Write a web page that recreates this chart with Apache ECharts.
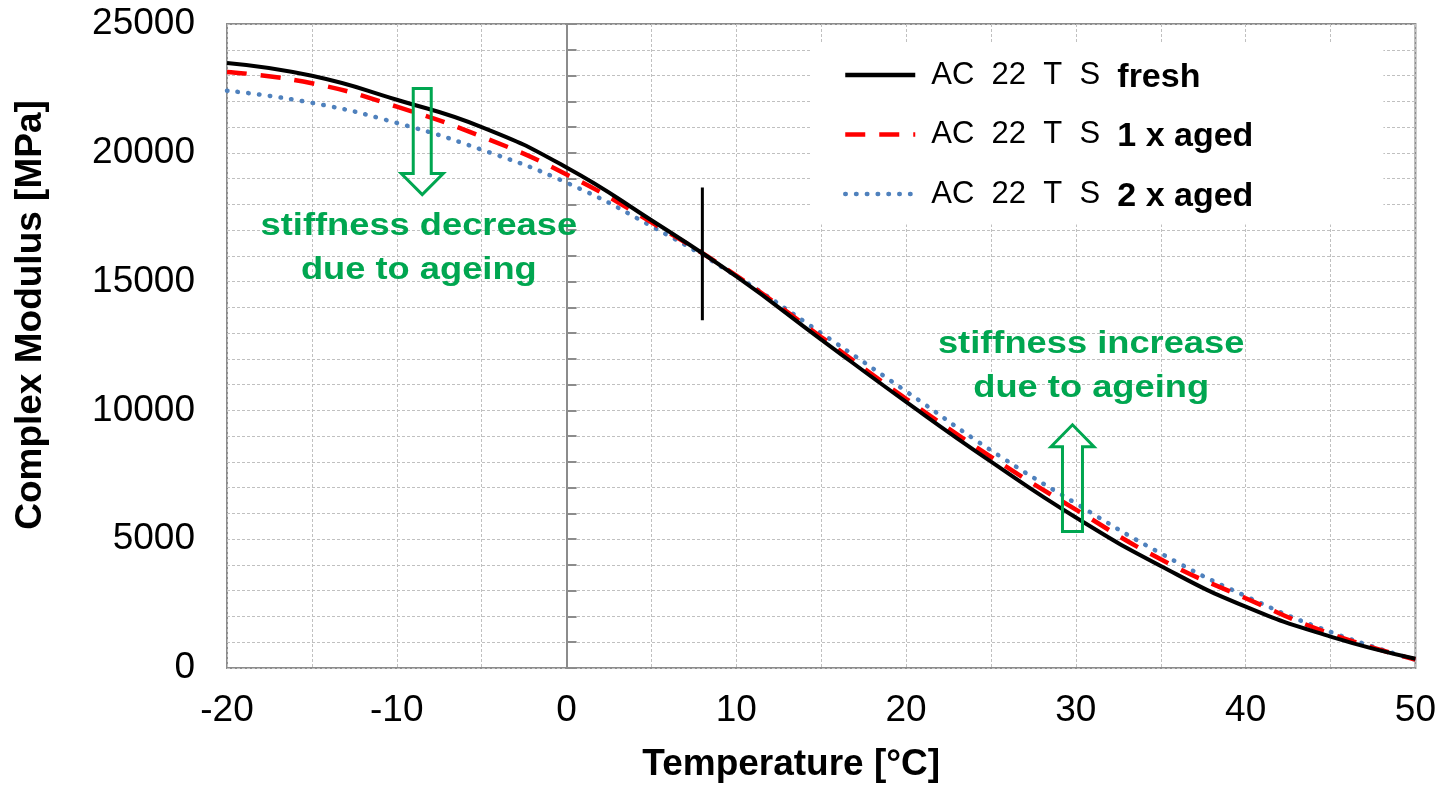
<!DOCTYPE html>
<html><head><meta charset="utf-8">
<script src="https://cdn.jsdelivr.net/npm/echarts@6/dist/echarts.min.js"></script>
<style>html,body{margin:0;padding:0;background:#fff}#c{width:1439px;height:788px}</style>
</head><body><div id="c"></div>
<script>
// ---- data ----
const temperatures = [-20, -15, -10, -5, 0, 5, 10, 15, 20, 25, 30, 35, 40, 45, 50];
const freshValues  = [23490, 22990, 22060, 21000, 19430, 17380, 15200, 12750, 10330, 8010, 5840, 3960, 2380, 1220, 360];
const aged1Values  = [23140, 22700, 21790, 20630, 19160, 17300, 15230, 12850, 10450, 8200, 6150, 4220, 2710, 1330, 330];
const aged2Values  = [22410, 21940, 21160, 20120, 18840, 17150, 15210, 13000, 10740, 8450, 6390, 4450, 2790, 1400, 320];
const seriesNames  = ['AC 22 T S fresh', 'AC 22 T S 1 x aged', 'AC 22 T S 2 x aged'];
const legendSuffix = ['fresh', '1 x aged', '2 x aged'];
const markerX = [8, 8];
const markerY = [18650, 13500];
const xMin = -20, xMax = 50, xStep = 10;
const yMin = 0, yMax = 25000, yStep = 5000;

const FONT = '"Liberation Sans", Arial, sans-serif';
const GREEN = '#00A650';
const GRID_COLOR = '#c0c0c0';
const AXIS_COLOR = '#8c8c8c';

const pairs = vals => temperatures.map((t, i) => [t, vals[i]]);

const chart = echarts.init(document.getElementById('c'), null, {renderer: 'canvas'});

const option = {
  animation: false,
  backgroundColor: '#fff',
  textStyle: {fontFamily: FONT},
  grid: {left: 227, right: 23, top: 24, bottom: 118, show: true,
         borderColor: AXIS_COLOR, borderWidth: 2, backgroundColor: 'transparent'},
  xAxis: {
    type: 'value', min: xMin, max: xMax, interval: xStep,
    name: 'Temperature [°C]', nameLocation: 'middle', nameGap: 78,
    nameTextStyle: {fontSize: 37, fontWeight: 'bold', color: '#000', fontFamily: FONT, padding: [0, 60, 0, 0]},
    axisLine: {show: false}, axisTick: {show: false},
    axisLabel: {fontSize: 37, color: '#000', margin: 24, fontFamily: FONT, formatter: v => String(v)},
    splitLine: {show: true, lineStyle: {color: GRID_COLOR, width: 1, type: [3, 2]}},
    minorTick: {show: false, splitNumber: 2},
    minorSplitLine: {show: true, lineStyle: {color: GRID_COLOR, width: 1, type: [3, 2]}}
  },
  yAxis: [{
    type: 'value', min: yMin, max: yMax, interval: yStep,
    name: 'Complex Modulus [MPa]', nameLocation: 'middle', nameGap: 178,
    nameTextStyle: {fontSize: 37, fontWeight: 'bold', color: '#000', fontFamily: FONT, padding: [0, 0, 0, 62]},
    axisLine: {show: false, onZero: false}, axisTick: {show: false},
    axisLabel: {fontSize: 37, color: '#000', margin: 32, fontFamily: FONT, formatter: v => String(v)},
    splitLine: {show: true, lineStyle: {color: GRID_COLOR, width: 1, type: [3, 2]}},
    minorTick: {show: false, splitNumber: 5},
    minorSplitLine: {show: true, lineStyle: {color: GRID_COLOR, width: 1, type: [3, 2]}}
  }, {
    type: 'value', min: yMin, max: yMax, interval: yStep, position: 'left',
    axisLine: {show: true, onZero: true, onZeroAxisIndex: 0, lineStyle: {color: AXIS_COLOR, width: 2}},
    axisTick: {show: true, inside: true, length: 10, lineStyle: {color: AXIS_COLOR, width: 2}},
    minorTick: {show: true, splitNumber: 5, length: 10, lineStyle: {color: AXIS_COLOR, width: 2}},
    axisLabel: {show: false}, splitLine: {show: false}
  }],
  legend: {
    data: seriesNames, orient: 'vertical', left: 810, top: 43,
    backgroundColor: '#fff', padding: [14, 130, 11, 33],
    itemWidth: 70, itemHeight: 14, itemGap: 22,
    selectedMode: false,
    itemStyle: {opacity: 0, borderWidth: 0},
    lineStyle: {width: 4.5},
    formatter: name => '{a|AC  22  T  S}  {b|' + legendSuffix[seriesNames.indexOf(name)] + '}',
    textStyle: {fontSize: 31, color: '#000', fontFamily: FONT, lineHeight: 36,
      rich: {
        a: {fontSize: 31, color: '#000', fontFamily: FONT, padding: [0, 0, 0, 11]},
        b: {fontSize: 34, fontWeight: 'bold', color: '#000', fontFamily: FONT, padding: [5, 0, 0, 0]}
      }}
  },
  series: [
    {name: seriesNames[0], type: 'line', smooth: true, symbol: 'none', z: 4,
     data: pairs(freshValues),
     lineStyle: {color: '#000', width: 4}, itemStyle: {color: '#000'}},
    {name: seriesNames[1], type: 'line', smooth: true, symbol: 'none', z: 3,
     data: pairs(aged1Values),
     lineStyle: {color: '#ff0000', width: 4.5, type: [20, 14], cap: 'butt'}, itemStyle: {color: '#ff0000'}},
    {name: seriesNames[2], type: 'line', smooth: true, symbol: 'none', z: 2,
     data: pairs(aged2Values),
     lineStyle: {color: '#4f81bd', width: 4.5, type: [0.5, 10.3], cap: 'round'}, itemStyle: {color: '#4f81bd'}},
    {name: 'marker', type: 'line', symbol: 'none', z: 5,
     data: markerX.map((x, i) => [x, markerY[i]]),
     lineStyle: {color: '#000', width: 3}, itemStyle: {color: '#000'}}
  ]
};
chart.setOption(option);

// ---- annotations (anchored in data space) ----
const annotations = {
  down: {x: -8.5, base: 22500, tip: 18380, shaftHW: 9, headHW: 21, headLen: 21},
  up:   {x: 29.8, base: 5300,  tip: 9440,  shaftHW: 10, headHW: 21.5, headLen: 22},
  textDecrease: {x: -8.7, y: 16290, text: 'stiffness decrease\ndue to ageing'},
  textIncrease: {x: 30.9, y: 11690, text: 'stiffness increase\ndue to ageing'}
};
const px = (x, y) => chart.convertToPixel({gridIndex: 0}, [x, y]);
function arrowShape(a) {
  const b = px(a.x, a.base), t = px(a.x, a.tip);
  const cx = b[0], by = b[1], ty = t[1];
  const dir = ty > by ? 1 : -1;
  const hy = ty - dir * a.headLen;
  return [[cx - a.shaftHW, by], [cx + a.shaftHW, by], [cx + a.shaftHW, hy], [cx + a.headHW, hy],
          [cx, ty], [cx - a.headHW, hy], [cx - a.shaftHW, hy]];
}
function textEl(a) {
  const p = px(a.x, a.y);
  return {type: 'text', x: p[0], y: p[1], scaleX: 1.17, z: 10,
    style: {text: a.text, fill: GREEN, font: 'bold 31px ' + FONT, align: 'center',
            verticalAlign: 'middle', lineHeight: 44}};
}
chart.setOption({graphic: [
  {type: 'polygon', z: 10, shape: {points: arrowShape(annotations.down)},
   style: {fill: 'none', stroke: GREEN, lineWidth: 3, lineJoin: 'miter'}},
  {type: 'polygon', z: 10, shape: {points: arrowShape(annotations.up)},
   style: {fill: 'none', stroke: GREEN, lineWidth: 3, lineJoin: 'miter'}},
  textEl(annotations.textDecrease),
  textEl(annotations.textIncrease)
]});
</script></body></html>
